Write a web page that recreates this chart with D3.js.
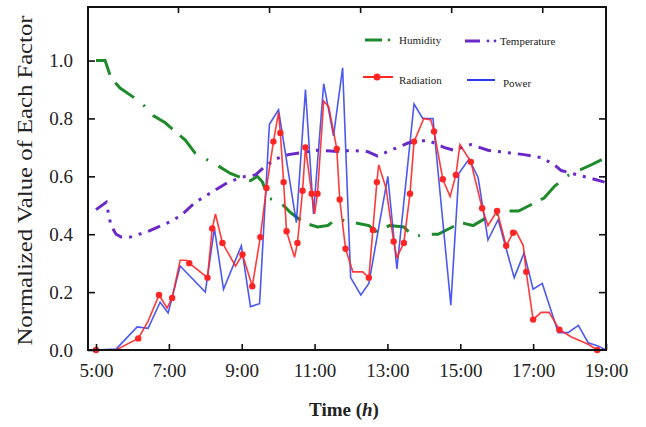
<!DOCTYPE html>
<html>
<head>
<meta charset="utf-8">
<script src="https://cdn.jsdelivr.net/npm/d3@7"></script>
<style>
  body { margin: 0; background: #fff; }
  svg text { font-family: "Liberation Serif", "Times New Roman", serif; fill: #222; }
</style>
</head>
<body>
<div id="chart"></div>
<script>
// values (hours, normalized value)
const humidityHours = [5.0, 5.25, 5.41, 5.66, 6.24, 6.57, 6.9, 7.45, 7.72, 8.3, 8.69, 8.99, 9.24, 9.43, 9.57, 9.73, 10.06, 10.34, 10.7, 11.08, 11.36, 11.63, 11.85, 12.07, 12.49, 12.68, 13.06, 13.45, 13.73, 14.0, 14.39, 15.02, 15.35, 15.76, 16.34, 16.6, 17.3, 17.58, 17.91, 18.6, 19.0];
const humidityValues = [1.0, 1.0, 0.94, 0.905, 0.855, 0.81, 0.785, 0.725, 0.68, 0.64, 0.61, 0.595, 0.585, 0.6, 0.58, 0.525, 0.51, 0.475, 0.44, 0.425, 0.43, 0.455, 0.445, 0.44, 0.43, 0.41, 0.43, 0.425, 0.39, 0.4, 0.4, 0.44, 0.43, 0.46, 0.48, 0.48, 0.525, 0.565, 0.6, 0.64, 0.665];

const temperatureHours = [5.0, 5.28, 5.41, 5.55, 5.69, 5.94, 6.43, 6.98, 7.34, 7.72, 8.63, 9.1, 9.38, 9.6, 9.93, 10.28, 11.08, 11.72, 11.99, 12.46, 12.73, 13.0, 13.56, 14.11, 14.55, 14.83, 15.29, 15.76, 16.75, 17.22, 17.58, 17.77, 18.68, 18.96];
const temperatureValues = [0.485, 0.51, 0.43, 0.4, 0.39, 0.39, 0.41, 0.44, 0.465, 0.51, 0.58, 0.6, 0.605, 0.63, 0.66, 0.675, 0.69, 0.685, 0.69, 0.685, 0.67, 0.685, 0.715, 0.725, 0.7, 0.69, 0.71, 0.69, 0.675, 0.665, 0.64, 0.62, 0.59, 0.58];

const powerHours = [5.0, 5.55, 6.13, 6.43, 6.76, 6.98, 7.31, 8.0, 8.25, 8.5, 8.99, 9.24, 9.49, 9.76, 10.01, 10.5, 10.75, 10.97, 11.25, 11.52, 11.77, 11.99, 12.27, 12.49, 13.01, 13.26, 13.73, 13.97, 14.25, 14.74, 14.96, 15.24, 15.49, 15.76, 16.04, 16.48, 16.75, 17.0, 17.25, 17.69, 17.96, 18.24, 18.51, 18.76, 19.0];
const powerValues = [0, 0.003, 0.08, 0.075, 0.165, 0.128, 0.29, 0.2, 0.42, 0.21, 0.36, 0.15, 0.16, 0.78, 0.83, 0.44, 0.9, 0.47, 0.92, 0.74, 0.975, 0.25, 0.19, 0.23, 0.6, 0.28, 0.85, 0.8, 0.8, 0.155, 0.61, 0.66, 0.595, 0.38, 0.45, 0.25, 0.335, 0.21, 0.23, 0.06, 0.06, 0.085, 0.025, 0.015, 0];

const radiationHours = [5.0, 5.55, 6.16, 6.43, 6.73, 6.95, 7.09, 7.31, 7.48, 7.56, 8.06, 8.19, 8.28, 8.47, 8.83, 9.02, 9.29, 9.51, 9.68, 9.87, 10.01, 10.06, 10.15, 10.23, 10.45, 10.53, 10.67, 10.75, 10.92, 11.0, 11.08, 11.25, 11.39, 11.61, 11.69, 11.85, 12.05, 12.32, 12.49, 12.6, 12.71, 12.76, 12.96, 13.17, 13.26, 13.45, 13.62, 13.73, 14.0, 14.19, 14.28, 14.52, 14.72, 14.88, 14.99, 15.29, 15.6, 15.76, 16.01, 16.26, 16.45, 16.53, 16.73, 16.81, 17.0, 17.22, 17.44, 17.72, 18.05, 18.51, 18.76, 19.0];
const radiationValues = [0, 0, 0.04, 0.1, 0.19, 0.145, 0.18, 0.31, 0.31, 0.3, 0.25, 0.42, 0.47, 0.37, 0.29, 0.33, 0.22, 0.39, 0.56, 0.72, 0.82, 0.75, 0.58, 0.41, 0.32, 0.37, 0.55, 0.7, 0.54, 0.47, 0.54, 0.86, 0.84, 0.695, 0.52, 0.35, 0.27, 0.27, 0.25, 0.415, 0.58, 0.64, 0.56, 0.375, 0.32, 0.37, 0.54, 0.72, 0.8, 0.795, 0.755, 0.59, 0.53, 0.605, 0.71, 0.65, 0.49, 0.43, 0.48, 0.36, 0.405, 0.41, 0.36, 0.27, 0.105, 0.13, 0.13, 0.07, 0.045, 0.02, 0, 0];
const radiationMarked = [1, 0, 1, 0, 1, 0, 1, 0, 0, 1, 1, 1, 0, 1, 0, 1, 1, 1, 1, 1, 0, 1, 1, 1, 0, 1, 1, 1, 1, 0, 1, 0, 0, 1, 1, 1, 0, 0, 1, 1, 1, 0, 0, 1, 0, 1, 1, 1, 0, 0, 1, 1, 0, 1, 0, 1, 1, 0, 1, 1, 1, 0, 0, 1, 1, 0, 0, 1, 0, 0, 1, 0];

const xTickHours = [5, 7, 9, 11, 13, 15, 17, 19];
const xTickLabels = ["5:00", "7:00", "9:00", "11:00", "13:00", "15:00", "17:00", "19:00"];
const topTickHours = [7.25, 9.75, 12.25, 14.75, 17.25];
const yTicks = [0, 0.2, 0.4, 0.6, 0.8, 1.0];
const rightTicks = [0.2, 0.4, 0.6, 0.8];

const W = 646, H = 427;
const mLeft = 88, mRight = 606, mTop = 7, mBottom = 350;

const svg = d3.select("#chart").append("svg").attr("width", W).attr("height", H);

const x = d3.scaleLinear().domain([4.78, 19.0]).range([mLeft, mRight]);
const y = d3.scaleLinear().domain([0, 1.185]).range([mBottom, mTop]);

function pts(hours, values) {
  return hours.map((h, i) => ({ h: h, v: values[i], i: i }));
}

const line = d3.line().x(d => x(d.h)).y(d => y(d.v));

const plot = svg.append("g");

// humidity: dash - dash - dot
plot.append("path")
  .datum(pts(humidityHours, humidityValues))
  .attr("d", line)
  .attr("fill", "none")
  .attr("stroke", "#1f8a2a")
  .attr("stroke-width", 3)
  .attr("stroke-dasharray", "24,10,24,12,2,12");

// temperature: dash - dot - dot
plot.append("path")
  .datum(pts(temperatureHours, temperatureValues))
  .attr("d", line)
  .attr("fill", "none")
  .attr("stroke", "#6a28c8")
  .attr("stroke-width", 3)
  .attr("stroke-dasharray", "13,7,3,7,3,7");

plot.append("path")
  .datum(pts(powerHours, powerValues))
  .attr("d", line)
  .attr("fill", "none")
  .attr("stroke", "#2b3cf0")
  .attr("stroke-width", 1.6)
  .attr("stroke-opacity", 0.85);

const rad = pts(radiationHours, radiationValues);
plot.append("path")
  .datum(rad)
  .attr("d", line)
  .attr("fill", "none")
  .attr("stroke", "#ff2525")
  .attr("stroke-width", 1.6)
  .attr("stroke-opacity", 0.9);

plot.selectAll("circle.rad")
  .data(rad.filter(d => radiationMarked[d.i]))
  .enter().append("circle")
  .attr("class", "rad")
  .attr("cx", d => x(d.h))
  .attr("cy", d => y(d.v))
  .attr("r", 3.2)
  .attr("fill", "#ff2525");

// frame
svg.append("rect")
  .attr("x", mLeft).attr("y", mTop)
  .attr("width", mRight - mLeft).attr("height", mBottom - mTop)
  .attr("fill", "none").attr("stroke", "#111").attr("stroke-width", 2);

// axes (inward ticks)
const xAxis = d3.axisBottom(x).tickValues(xTickHours)
  .tickFormat((d, i) => xTickLabels[i]).tickSizeInner(-6).tickSizeOuter(0).tickPadding(14);
const gx = svg.append("g").attr("transform", `translate(0,${mBottom})`).call(xAxis);
gx.select(".domain").remove();
gx.selectAll("line").attr("stroke", "#111").attr("stroke-width", 1.6);
gx.selectAll("text").style("font-size", "19px").attr("fill", "#222");

const xTop = d3.axisTop(x).tickValues(topTickHours).tickFormat("").tickSizeInner(-6).tickSizeOuter(0);
const gxt = svg.append("g").attr("transform", `translate(0,${mTop})`).call(xTop);
gxt.select(".domain").remove();
gxt.selectAll("line").attr("stroke", "#111").attr("stroke-width", 1.6);

const yAxis = d3.axisLeft(y).tickValues(yTicks).tickFormat(d3.format(".1f"))
  .tickSizeInner(-7).tickSizeOuter(0).tickPadding(15);
const gy = svg.append("g").attr("transform", `translate(${mLeft},0)`).call(yAxis);
gy.select(".domain").remove();
gy.selectAll("line").attr("stroke", "#111").attr("stroke-width", 1.6);
gy.selectAll("text").style("font-size", "19px").attr("fill", "#222");

const yRight = d3.axisRight(y).tickValues(rightTicks).tickFormat("").tickSizeInner(-7).tickSizeOuter(0);
const gyr = svg.append("g").attr("transform", `translate(${mRight},0)`).call(yRight);
gyr.select(".domain").remove();
gyr.selectAll("line").attr("stroke", "#111").attr("stroke-width", 1.6);

// axis titles
svg.append("text")
  .attr("transform", `translate(25,${(mTop + mBottom) / 2 + 2}) rotate(-90)`)
  .attr("text-anchor", "middle")
  .attr("dy", "0.35em")
  .attr("textLength", 330)
  .attr("lengthAdjust", "spacingAndGlyphs")
  .style("font-size", "20px")
  .text("Normalized Value of Each Factor");

const xt = svg.append("text")
  .attr("x", 344).attr("y", 416)
  .attr("text-anchor", "middle")
  .style("font-size", "19px")
  .style("font-weight", "bold");
xt.append("tspan").text("Time (");
xt.append("tspan").style("font-style", "italic").text("h");
xt.append("tspan").text(")");

// legend
const lg = svg.append("g").style("font-size", "11px");
lg.append("line").attr("x1", 365).attr("x2", 382).attr("y1", 40).attr("y2", 40)
  .attr("stroke", "#1f8a2a").attr("stroke-width", 3);
lg.append("circle").attr("cx", 389).attr("cy", 40).attr("r", 1.4).attr("fill", "#1f8a2a");
lg.append("text").attr("x", 399).attr("y", 44).text("Humidity");

lg.append("line").attr("x1", 465).attr("x2", 480).attr("y1", 41).attr("y2", 41)
  .attr("stroke", "#6a28c8").attr("stroke-width", 3);
lg.append("circle").attr("cx", 488).attr("cy", 41).attr("r", 1.4).attr("fill", "#6a28c8");
lg.append("circle").attr("cx", 495).attr("cy", 41).attr("r", 1.4).attr("fill", "#6a28c8");
lg.append("text").attr("x", 500).attr("y", 45).text("Temperature");

lg.append("line").attr("x1", 363).attr("x2", 393).attr("y1", 77).attr("y2", 77)
  .attr("stroke", "#ff2525").attr("stroke-width", 2);
lg.append("circle").attr("cx", 377).attr("cy", 77).attr("r", 3.5).attr("fill", "#ff2525");
lg.append("text").attr("x", 399).attr("y", 84).text("Radiation");

lg.append("line").attr("x1", 467).attr("x2", 495).attr("y1", 80).attr("y2", 80)
  .attr("stroke", "#2b3cf0").attr("stroke-width", 2);
lg.append("text").attr("x", 503).attr("y", 87).text("Power");
</script>
</body>
</html>
